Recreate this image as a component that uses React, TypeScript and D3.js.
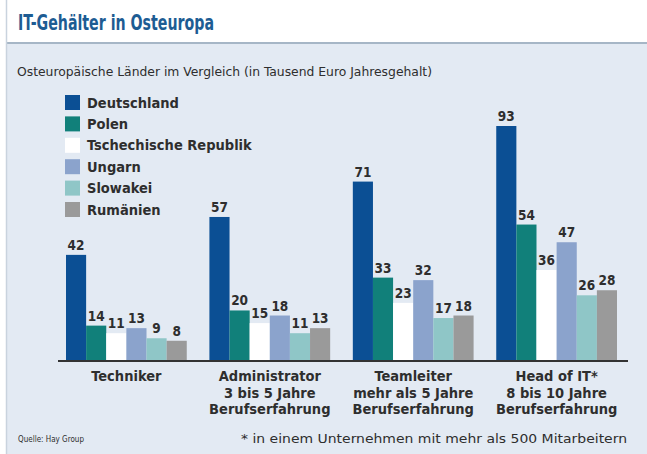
import React from "react";
import * as d3 from "d3";

const width = 647;
const height = 454;

const categories = [
  ["Techniker"],
  ["Administrator", "3 bis 5 Jahre", "Berufserfahrung"],
  ["Teamleiter", "mehr als 5 Jahre", "Berufserfahrung"],
  ["Head of IT*", "8 bis 10 Jahre", "Berufserfahrung"],
];
const countries = [
  "Deutschland",
  "Polen",
  "Tschechische Republik",
  "Ungarn",
  "Slowakei",
  "Rumänien",
];
const colors = ["#0b4f94", "#11807a", "#ffffff", "#8ba3cc", "#8fc6c7", "#9a9a9a"];

// values per country, one per category
const deutschland = [42, 57, 71, 93];
const polen = [14, 20, 33, 54];
const tschechien = [11, 15, 23, 36];
const ungarn = [13, 18, 32, 47];
const slowakei = [9, 11, 17, 26];
const rumaenien = [8, 13, 18, 28];
const series = [deutschland, polen, tschechien, ungarn, slowakei, rumaenien];

const baseY = 361;
const plotLeft = 58;
const plotRight = 628;

const font = "'DejaVu Sans Condensed', 'DejaVu Sans', sans-serif";
const textCol = "#2e2e2e";

export default function App() {
  const x0 = d3
    .scaleBand<number>()
    .domain(d3.range(categories.length))
    .range([66, 617])
    .paddingInner(0.158)
    .paddingOuter(0);
  const x1 = d3
    .scaleBand<number>()
    .domain(d3.range(countries.length))
    .range([0, x0.bandwidth()]);
  const y = d3.scaleLinear().domain([0, 93]).range([baseY, 126]);

  return (
    <svg
      width={width}
      height={height}
      style={{ position: "absolute", left: 0, top: 0 }}
      fontFamily={font}
    >
      <rect x={0} y={0} width={width} height={height} fill="#ffffff" />
      <rect x={7} y={43} width={width - 7} height={height - 43} fill="#e3eaf3" />
      <line x1={7} x2={width} y1={43} y2={43} stroke="#a6b6c6" strokeWidth={2} />
      <line x1={6.5} x2={6.5} y1={0} y2={height} stroke="#c9d3de" strokeWidth={1.5} />

      <text x={18} y={30} fontSize={21} fontWeight="bold" fill="#1d5c93"
        textLength={196} lengthAdjust="spacingAndGlyphs">
        IT-Gehälter in Osteuropa
      </text>
      <text x={17} y={76} fontSize={13} fill={textCol}
        textLength={415} lengthAdjust="spacingAndGlyphs">
        Osteuropäische Länder im Vergleich (in Tausend Euro Jahresgehalt)
      </text>

      {countries.map((c, i) => (
        <g key={c} transform={`translate(65, ${95 + i * 21.4})`}>
          <rect width={15} height={15} fill={colors[i]} />
          <text x={22} y={12.5} fontSize={14.5} fontWeight="bold" fill={textCol}>
            {c}
          </text>
        </g>
      ))}

      {categories.map((lines, ci) => (
        <g key={ci} transform={`translate(${x0(ci)}, 0)`}>
          {series.map((vals, si) => (
            <g key={si}>
              <rect
                x={x1(si)}
                y={y(vals[ci])}
                width={x1.bandwidth()}
                height={baseY - y(vals[ci])}
                fill={colors[si]}
              />
              <text
                x={(x1(si) as number) + x1.bandwidth() / 2}
                y={y(vals[ci]) - 5}
                textAnchor="middle"
                fontSize={13.5}
                fontWeight="bold"
                fill={textCol}
              >
                {vals[ci]}
              </text>
            </g>
          ))}
          {lines.map((l, li) => (
            <text
              key={li}
              x={x0.bandwidth() / 2}
              y={381 + li * 16.5}
              textAnchor="middle"
              fontSize={14.5}
              fontWeight="bold"
              fill={textCol}
            >
              {l}
            </text>
          ))}
        </g>
      ))}

      <line x1={plotLeft} x2={plotRight} y1={baseY} y2={baseY} stroke="#333" strokeWidth={2} />

      <text x={18} y={442} fontSize={9} fill={textCol}
        textLength={66} lengthAdjust="spacingAndGlyphs">
        Quelle: Hay Group
      </text>
      <text x={627} y={443} fontSize={12.5} textAnchor="end" fill={textCol}
        textLength={386} lengthAdjust="spacingAndGlyphs">
        * in einem Unternehmen mit mehr als 500 Mitarbeitern
      </text>
    </svg>
  );
}
